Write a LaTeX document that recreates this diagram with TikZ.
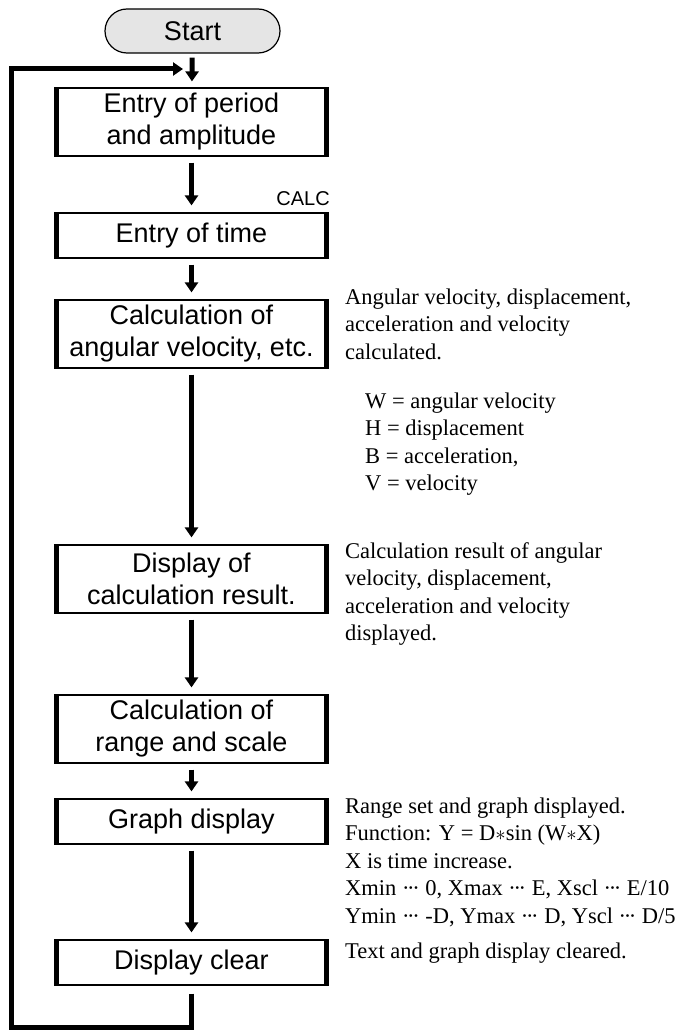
\documentclass[tikz,border=0pt]{standalone}
\usepackage{fontspec}
\setmainfont{Liberation Serif}
\setsansfont{Liberation Sans}
\usetikzlibrary{arrows.meta,shapes.misc}
\newcommand\middots{\mbox{·\kern-2.4pt·\kern-2.4pt·}}

\begin{document}
\begin{tikzpicture}[x=1pt,y=-1pt,
    boxfont/.style={font=\sffamily\fontsize{27pt}{32pt}\selectfont},
    procbox/.style={boxfont,draw,line width=1.2pt,minimum width=273pt,inner sep=0pt,align=center},
    twoline/.style={procbox,minimum height=68pt},
    oneline/.style={procbox,minimum height=45pt},
    side/.style={line width=4.5pt},
    note/.style={font=\fontsize{22.5pt}{27.5pt}\selectfont,align=left,anchor=base west,inner sep=0pt},
    flow/.style={line width=5pt,-{Triangle[width=13pt,length=10pt]},shorten <=6pt,shorten >=7pt}]
  \useasboundingbox (0,0) rectangle (682,1030);
  % flow chart boxes
  \node[boxfont,draw,line width=1.2pt,fill=gray!20,rounded rectangle,
    minimum width=175pt,minimum height=44pt,inner sep=0pt] (start) at (192.5,31) {Start};
  \node[twoline] (period) at (191.5,122) {Entry of period\\and amplitude};
  \node[oneline] (time) at (191.5,235.5) {Entry of time};
  \node[twoline] (angvel) at (191.5,334) {Calculation of\\angular velocity, etc.};
  \node[twoline] (result) at (191.5,579) {Display of\\calculation result.};
  \node[twoline] (range) at (191.5,729) {Calculation of\\range and scale};
  \node[oneline] (graph) at (191.5,821.5) {Graph display};
  \node[oneline] (clear) at (191.5,962.5) {Display clear};
  \foreach \b in {period,time,angvel,result,range,graph,clear}
    \draw[side] ([xshift=2.25pt]\b.north west) -- ([xshift=2.25pt]\b.south west)
      ([xshift=-2.25pt]\b.north east) -- ([xshift=-2.25pt]\b.south east);
  \node[font=\sffamily\fontsize{20pt}{24pt}\selectfont,anchor=base east,inner sep=0pt] (calc) at (330,205) {CALC};
  % notes (anchored at the baseline of their last line)
  \node[note] (angnote) at (345,359) {Angular velocity, displacement,\\acceleration and velocity\\calculated.};
  \node[note] (varnote) at (365,490.5) {W = angular velocity\\H = displacement\\B = acceleration,\\V = velocity};
  \node[note] (resnote) at (345,640.5) {Calculation result of angular\\velocity, displacement,\\acceleration and velocity\\displayed.};
  \node[note] (graphnote) at (345,923) {Range set and graph displayed.\\Function: Y = D$\ast$sin (W$\ast$X)\\X is time increase.\\Xmin \middots{} 0, Xmax \middots{} E, Xscl \middots{} E/10\\Ymin \middots{} -D, Ymax \middots{} D, Yscl \middots{} D/5};
  \node[note] (clearnote) at (345,958) {Text and graph display cleared.};
  % connectors
  \coordinate (botleft) at (11,1027);
  \coordinate (topleft) at (11,69);
  \coordinate (entry) at (183,69);
  \begin{scope}[flow]
    \draw[shorten <=4pt,shorten >=6pt] (start) -- (period);
    \draw (period) -- (time);
    \draw (time) -- (angvel);
    \draw (angvel) -- (result);
    \draw (result) -- (range);
    \draw (range) -- (graph);
    \draw (graph) -- (clear);
  \end{scope}
  \draw[line width=5pt,shorten <=8pt,-{Triangle[width=13pt,length=10pt]}]
    (clear) -- (clear |- botleft) -- (botleft) -- (topleft) -- (entry);
\end{tikzpicture}
\end{document}
